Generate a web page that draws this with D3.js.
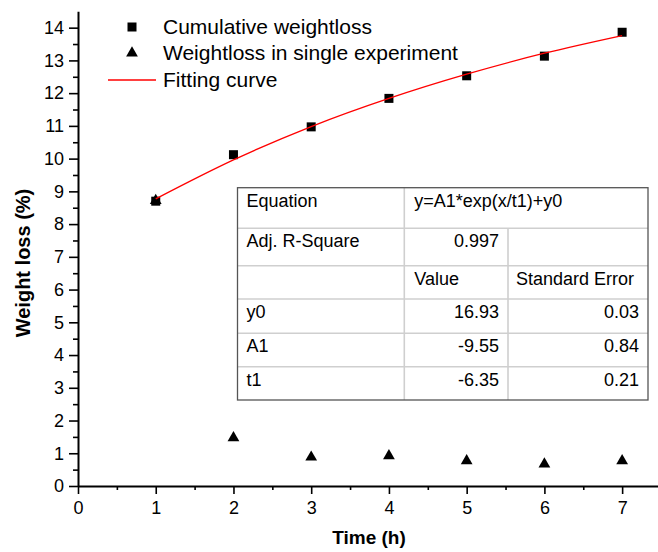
<!DOCTYPE html>
<html>
<head>
<meta charset="utf-8">
<script src="https://cdn.jsdelivr.net/npm/d3@7"></script>
<style>
  body { margin: 0; background: #fff; }
  svg { display: block; font-family: Arial, "Liberation Sans", sans-serif; }
</style>
</head>
<body>
<svg width="658" height="552"></svg>
<script>
// data
var times = [1, 2, 3, 4, 5, 6, 7];
var cumulative = [8.70, 10.12, 10.97, 11.84, 12.53, 13.13, 13.86];
var single = [8.72, 1.47, 0.88, 0.92, 0.77, 0.67, 0.77];
var fitCurve = [8.77, 9.96, 10.98, 11.84, 12.58, 13.22, 13.76];

var xTicks = [0, 1, 2, 3, 4, 5, 6, 7];
var yTicks = [0, 1, 2, 3, 4, 5, 6, 7, 8, 9, 10, 11, 12, 13, 14];

var legendLabels = ["Cumulative weightloss", "Weightloss in single experiment", "Fitting curve"];

var equationText = "y=A1*exp(x/t1)+y0";
var adjR2 = "0.997";
var paramNames = ["y0", "A1", "t1"];
var paramValues = ["16.93", "-9.55", "-6.35"];
var paramErrors = ["0.03", "0.84", "0.21"];

var svg = d3.select("svg");

var x = d3.scaleLinear([0, 7.5], [78, 661]);
var y = d3.scaleLinear([0, 14.5], [486, 11.3]);

// minor ticks first
var xMinor = d3.range(0.5, 7.5, 1);
var yMinor = d3.range(0.5, 14.5, 1);

svg.append("g")
  .attr("transform", "translate(0,486)")
  .call(d3.axisBottom(x).tickValues(xMinor).tickFormat("").tickSize(4).tickSizeOuter(0))
  .call(function (g) { g.select(".domain").remove(); });

svg.append("g")
  .attr("transform", "translate(78,0)")
  .call(d3.axisLeft(y).tickValues(yMinor).tickFormat("").tickSize(5).tickSizeOuter(0))
  .call(function (g) { g.select(".domain").remove(); });

var xAxis = svg.append("g")
  .attr("transform", "translate(0,486)")
  .call(d3.axisBottom(x).tickValues(xTicks).tickSize(8).tickPadding(7).tickSizeOuter(0));

var yAxis = svg.append("g")
  .attr("transform", "translate(78,0)")
  .call(d3.axisLeft(y).tickValues(yTicks).tickSize(9).tickPadding(5).tickSizeOuter(0));

svg.selectAll(".tick line").attr("stroke", "#000").attr("stroke-width", 1.6);
svg.selectAll(".domain").attr("stroke", "#000").attr("stroke-width", 2);
svg.selectAll(".tick text")
  .attr("fill", "#000")
  .style("font-size", "18px")
  .style("font-family", "Arial, 'Liberation Sans', sans-serif");

// axis titles
svg.append("text")
  .attr("x", 369)
  .attr("y", 544)
  .attr("text-anchor", "middle")
  .style("font-size", "19px")
  .style("font-weight", "bold")
  .text("Time (h)");

svg.append("text")
  .attr("transform", "translate(30,263) rotate(-90)")
  .attr("text-anchor", "middle")
  .style("font-size", "20px")
  .style("font-weight", "bold")
  .text("Weight loss (%)");

// markers
var sq = 9;
svg.append("g").selectAll("rect")
  .data(times)
  .join("rect")
  .attr("x", function (d) { return x(d) - sq / 2; })
  .attr("y", function (d, i) { return y(cumulative[i]) - sq / 2; })
  .attr("width", sq)
  .attr("height", sq)
  .attr("fill", "#000");

var tri = d3.symbol().type(d3.symbolTriangle).size(60);
svg.append("g").selectAll("path")
  .data(times)
  .join("path")
  .attr("d", tri)
  .attr("transform", function (d, i) {
    return "translate(" + x(d) + "," + y(single[i]) + ")";
  })
  .attr("fill", "#000");

// fitting curve
var line = d3.line()
  .x(function (d) { return x(d); })
  .y(function (d, i) { return y(fitCurve[i]); })
  .curve(d3.curveMonotoneX);

svg.append("path")
  .datum(times)
  .attr("d", line)
  .attr("fill", "none")
  .attr("stroke", "#ff0000")
  .attr("stroke-width", 1.3);

// legend
var legend = svg.append("g");
var rowY = [27, 53, 80];

legend.append("rect")
  .attr("x", 132 - sq / 2).attr("y", rowY[0] - sq / 2)
  .attr("width", sq).attr("height", sq)
  .attr("fill", "#000");
legend.append("path")
  .attr("d", tri)
  .attr("transform", "translate(132," + rowY[1] + ")")
  .attr("fill", "#000");
legend.append("line")
  .attr("x1", 108).attr("x2", 156)
  .attr("y1", rowY[2]).attr("y2", rowY[2])
  .attr("stroke", "#ff0000").attr("stroke-width", 1.3);

legend.selectAll("text")
  .data(legendLabels)
  .join("text")
  .attr("x", 163)
  .attr("y", function (d, i) { return rowY[i]; })
  .attr("dy", "0.35em")
  .style("font-size", "21px")
  .text(function (d) { return d; });

// fit results table
var tL = 237.5, tR = 648, c1 = 404.3, c2 = 508;
var rows = [187.7, 228.3, 265.7, 299, 333.3, 366.7, 400];
var table = svg.append("g").style("font-size", "18px");

table.append("rect")
  .attr("x", tL).attr("y", rows[0])
  .attr("width", tR - tL).attr("height", rows[6] - rows[0])
  .attr("fill", "#fff");

// inner lines
for (var r = 1; r < 6; r++) {
  table.append("line")
    .attr("x1", tL).attr("x2", tR)
    .attr("y1", rows[r]).attr("y2", rows[r])
    .attr("stroke", "#cfcfcf").attr("stroke-width", 1.6);
}
table.append("line")
  .attr("x1", c1).attr("x2", c1)
  .attr("y1", rows[0]).attr("y2", rows[6])
  .attr("stroke", "#cfcfcf").attr("stroke-width", 1.6);
table.append("line")
  .attr("x1", c2).attr("x2", c2)
  .attr("y1", rows[1]).attr("y2", rows[6])
  .attr("stroke", "#cfcfcf").attr("stroke-width", 1.6);

table.append("rect")
  .attr("x", tL).attr("y", rows[0])
  .attr("width", tR - tL).attr("height", rows[6] - rows[0])
  .attr("fill", "none")
  .attr("stroke", "#555").attr("stroke-width", 1.3);

function cell(txt, xx, rowIdx, anchor) {
  table.append("text")
    .attr("x", xx)
    .attr("y", rows[rowIdx] + 19)
    .attr("text-anchor", anchor || "start")
    .text(txt);
}

cell("Equation", tL + 9, 0);
cell(equationText, c1 + 10, 0);
cell("Adj. R-Square", tL + 9, 1);
cell(adjR2, c2 - 9, 1, "end");
cell("Value", c1 + 10, 2);
cell("Standard Error", c2 + 8, 2);
paramNames.forEach(function (p, i) {
  cell(p, tL + 9, 3 + i);
  cell(paramValues[i], c2 - 9, 3 + i, "end");
  cell(paramErrors[i], tR - 9, 3 + i, "end");
});
</script>
</body>
</html>
